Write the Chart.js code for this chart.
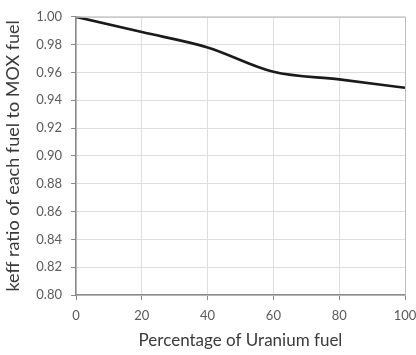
<!DOCTYPE html>
<html>
<head>
<meta charset="utf-8">
<script src="https://cdn.jsdelivr.net/npm/chart.js@4"></script>
<style>
html,body{margin:0;padding:0;background:#fff;}
#wrap{width:416px;height:355px;}
</style>
</head>
<body>
<div id="wrap"><canvas id="c" width="416" height="355"></canvas></div>
<script>
const xValues = [0, 20, 40, 60, 80, 100];
const keffRatio = [1.000, 0.989, 0.978, 0.9605, 0.955, 0.949];
const xTicks = [0, 20, 40, 60, 80, 100];
const yTicks = [0.80, 0.82, 0.84, 0.86, 0.88, 0.90, 0.92, 0.94, 0.96, 0.98, 1.00];

const font = "Lato, 'Open Sans', sans-serif";
new Chart(document.getElementById('c'), {
  type: 'line',
  data: {
    datasets: [{
      data: xValues.map((x, i) => ({x: x, y: keffRatio[i]})),
      borderColor: '#1a1a1a',
      borderWidth: 2.6,
      pointRadius: 0,
      tension: 0.4,
      cubicInterpolationMode: 'monotone',
      fill: false
    }]
  },
  options: {
    responsive: false,
    animation: false,
    plugins: {legend: {display: false}, tooltip: {enabled: false}},
    layout: {padding: {top: 14, right: 11, left: 2, bottom: 0}},
    scales: {
      x: {
        type: 'linear', min: 0, max: 100,
        afterBuildTicks: s => { s.ticks = xTicks.map(v => ({value: v})); },
        afterFit: s => { s.height = 60; s.paddingRight = 0; s.paddingLeft = 0; },
        grid: {color: '#dedede', tickColor: '#8a8a8a', tickLength: 5, lineWidth: 1},
        border: {color: '#8a8a8a', width: 1.5},
        ticks: {color: '#5a5a5a', font: {family: font, size: 13}, padding: 8},
        title: {display: true, text: 'Percentage of Uranium fuel', color: '#3a3a3a', font: {family: font, size: 17}, padding: {top: 2}}
      },
      y: {
        min: 0.80, max: 1.00,
        afterBuildTicks: s => { s.ticks = yTicks.map(v => ({value: v})); },
        afterFit: s => { s.width = 74; },
        grid: {color: '#dedede', tickColor: '#8a8a8a', tickLength: 5, lineWidth: 1},
        border: {color: '#8a8a8a', width: 1.5},
        ticks: {color: '#5a5a5a', font: {family: font, size: 13}, padding: 9, callback: v => v.toFixed(2)},
        title: {display: true, text: 'keff ratio of each fuel to MOX fuel', color: '#3a3a3a', font: {family: font, size: 18}, padding: {top: 0, bottom: 0}}
      }
    }
  },
  plugins: [{
    id: 'box',
    afterDraw(chart) {
      const a = chart.chartArea, ctx = chart.ctx;
      ctx.save();
      ctx.strokeStyle = '#bdbdbd';
      ctx.lineWidth = 1;
      ctx.beginPath();
      ctx.moveTo(a.left, a.top + 0.5); ctx.lineTo(a.right + 0.5, a.top + 0.5); ctx.lineTo(a.right + 0.5, a.bottom);
      ctx.stroke();
      ctx.restore();
    }
  }]
});
</script>
</body>
</html>
